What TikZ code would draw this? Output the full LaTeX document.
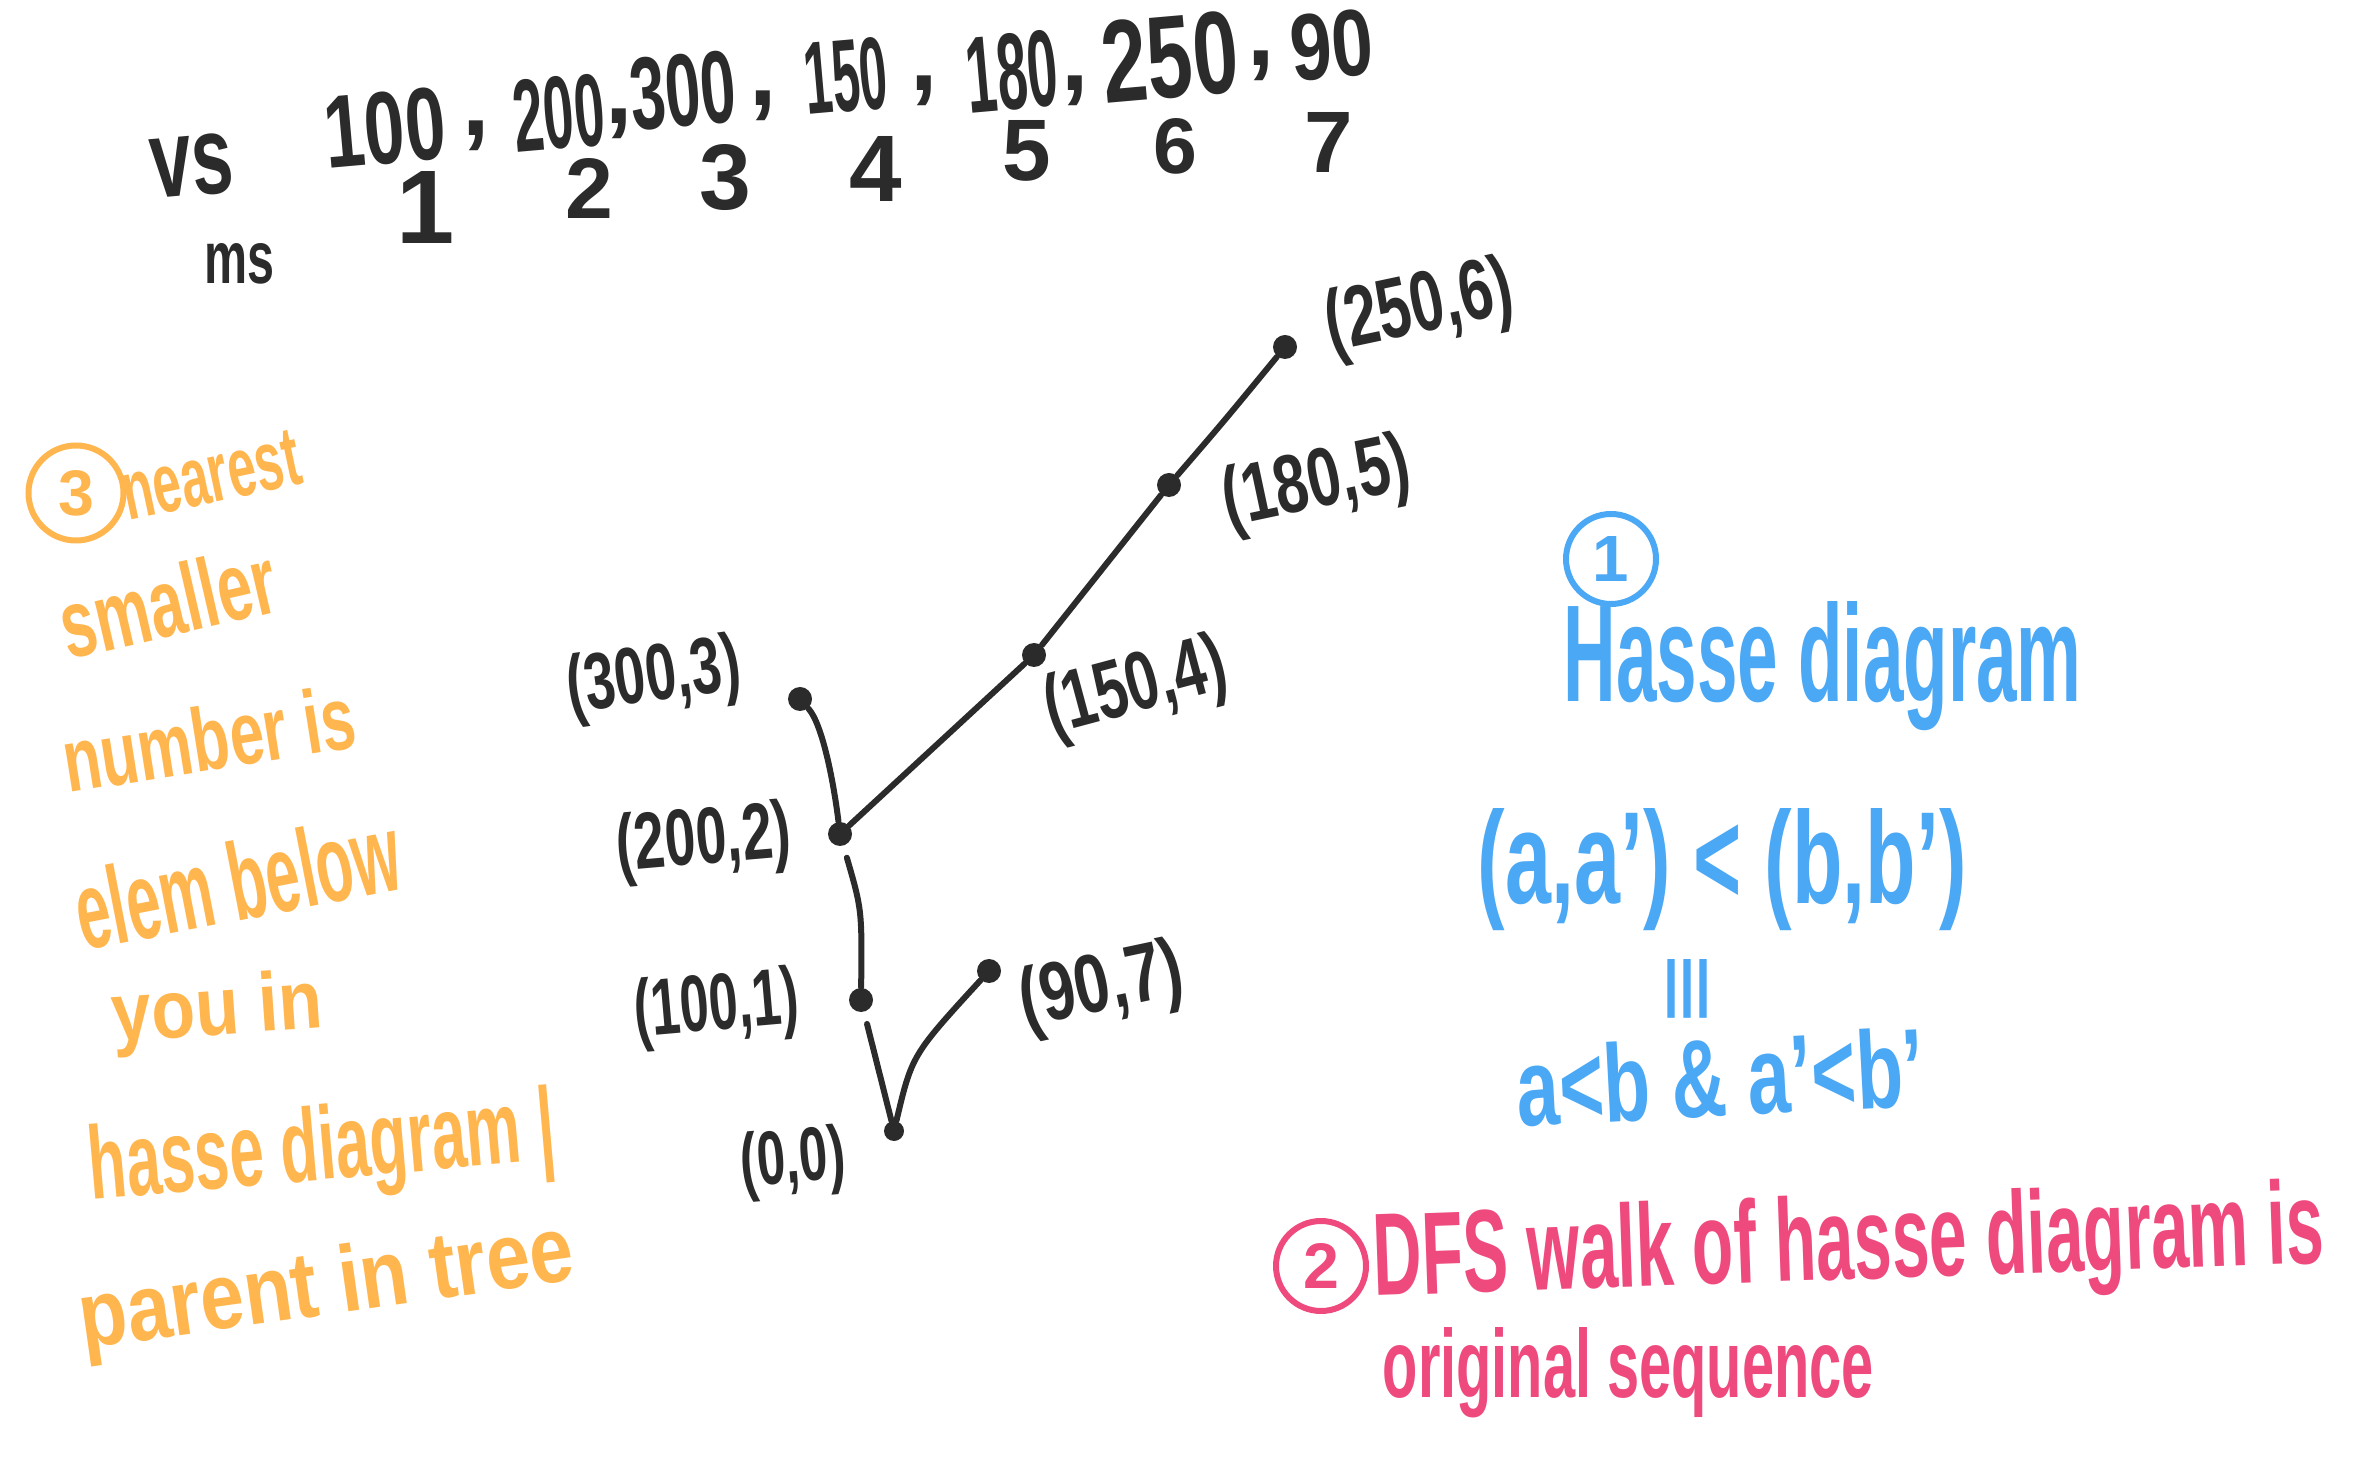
\documentclass[tikz,border=0pt]{standalone}
\usepackage{fontspec}
\setmainfont{Liberation Sans}
\usepackage{graphicx}
\definecolor{ink}{HTML}{2B2B2B}
\definecolor{orng}{HTML}{FFB64F}
\definecolor{blu}{HTML}{4AA8F5}
\definecolor{pnk}{HTML}{EE4A7E}
\newlength\pxu \setlength\pxu{0.1mm}
\newcommand\hwbox[3]{\resizebox{#1\pxu}{#2\pxu}{#3}}
\newcommand\hwh[2]{\resizebox{!}{#1\pxu}{#2}}
\begin{document}
\begin{tikzpicture}[x=0.1mm,y=-0.1mm,
  dotn/.style={circle,fill=ink,inner sep=0pt,minimum size=2.4mm},
  edge/.style={draw=ink,line width=0.6mm,line cap=round},
  lab/.style={text=ink,inner sep=0pt,anchor=center,font=\bfseries},
  comma/.style={text=ink,inner sep=0pt,anchor=center,font=\bfseries\fontsize{28}{28}\selectfont},
  onote/.style={text=orng,inner sep=0pt,anchor=base west,font=\bfseries},
  bnote/.style={text=blu,inner sep=0pt,anchor=base west,font=\bfseries},
  pnote/.style={text=pnk,inner sep=0pt,anchor=base west,font=\bfseries},
  ring/.style={circle,draw=#1,text=#1,line width=0.6mm,inner sep=0pt,minimum size=9mm,font=\bfseries}
]
\fill[white] (0,0) rectangle (2368,1472);
\useasboundingbox (0,0) rectangle (2368,1472);

% top rows
\node[lab,rotate=5] (vs) at (192,166) {\hwbox{83}{60}{vs}};
\node[lab] (ms) at (239,264) {\hwbox{70}{40}{ms}};
\node[lab,rotate=5] (v1) at (385,128) {\hwbox{121}{72}{100}};
\node[comma] (c1) at (476,136) {,};
\node[lab,rotate=5] (v2) at (559,113) {\hwbox{91}{72}{200}};
\node[comma] (c2) at (619,124) {,};
\node[lab,rotate=5] (v3) at (683,91) {\hwbox{106}{72}{300}};
\node[comma] (c3) at (763,106) {,};
\node[lab,rotate=5] (v4) at (846,76) {\hwbox{83}{72}{150}};
\node[comma] (c4) at (924,91) {,};
\node[lab,rotate=5] (v5) at (1012,72) {\hwbox{91}{76}{180}};
\node[comma] (c5) at (1075,91) {,};
\node[lab,rotate=5] (v6) at (1170,57) {\hwbox{136}{82}{250}};
\node[comma] (c6) at (1261,66) {,};
\node[lab,rotate=5] (v7) at (1332,45) {\hwbox{83}{66}{90}};

\node[lab] (i1) at (426,208) {\hwh{72}{1}};
\node[lab] (i2) at (589,189) {\hwh{60}{2}};
\node[lab] (i3) at (725,178) {\hwh{65}{3}};
\node[lab] (i4) at (876,169) {\hwh{65}{4}};
\node[lab] (i5) at (1027,151) {\hwh{60}{5}};
\node[lab] (i6) at (1175,146) {\hwh{55}{6}};
\node[lab] (i7) at (1329,143) {\hwh{60}{7}};

% tree
\node[dotn] (n250) at (1285,347) {};
\node[dotn] (n180) at (1169,485) {};
\node[dotn] (n150) at (1034,655) {};
\node[dotn] (n300) at (800,699) {};
\node[dotn] (n200) at (840,834) {};
\node[dotn] (n100) at (861,1000) {};
\node[dotn,minimum size=2mm] (n0) at (894,1131) {};
\node[dotn] (n90) at (989,971) {};

\draw[edge] (n250) .. controls (1225,420) .. (n180);
\draw[edge] (n180) -- (n150);
\draw[edge] (n150) -- (n200);
\draw[edge] (n300) .. controls (823,725) and (834,785) .. (n200);
\draw[edge,shorten <=1.2mm] (n200) .. controls (862,910) .. (n100);
\draw[edge,shorten <=1.2mm] (n100) -- (n0);
\draw[edge] (n0) .. controls (912,1055) .. (n90);

\node[lab,rotate=12] (l250) at (1420,310) {\hwbox{190}{62}{(250,6)}};
\node[lab,rotate=12] (l180) at (1317,486) {\hwbox{190}{60}{(180,5)}};
\node[lab,rotate=15] (l150) at (1136,690) {\hwbox{185}{60}{(150,4)}};
\node[lab,rotate=8] (l300) at (654,680) {\hwbox{175}{58}{(300,3)}};
\node[lab,rotate=5] (l200) at (704,843) {\hwbox{175}{58}{(200,2)}};
\node[lab,rotate=5] (l100) at (717,1009) {\hwbox{165}{58}{(100,1)}};
\node[lab,rotate=5] (l0) at (793,1163) {\hwbox{105}{55}{(0,0)}};
\node[lab,rotate=12] (l90) at (1102,989) {\hwbox{165}{60}{(90,7)}};

% orange notes
\node[ring=orng,minimum size=9.5mm] (o3) at (76,493) {\hwh{45}{3}};
\node[onote,rotate=12] (o1) at (128,521) {\hwbox{180}{55}{nearest}};
\node[onote,rotate=13] (o2) at (68,660) {\hwbox{219}{70}{smaller}};
\node[onote,rotate=9] (o4) at (68,793) {\hwbox{294}{65}{number is}};
\node[onote,rotate=11] (o5) at (83,951) {\hwbox{328}{80}{elem below}};
\node[onote,rotate=4] (o6) at (113,1042) {\hwbox{211}{60}{you in}};
\node[onote,rotate=5] (o7) at (91,1200) {\hwbox{468}{75}{hasse diagram |}};
\node[onote,rotate=8] (o8) at (83,1349) {\hwbox{498}{68}{parent in tree}};

% blue notes
\node[ring=blu,minimum size=9mm] (b1) at (1611,559) {\hwh{45}{1}};
\node[bnote] (b2) at (1563,702) {\hwbox{518}{100}{Hasse diagram}};
\node[bnote] (b3) at (1477,903) {\hwbox{489}{95}{(a,a') < (b,b')}};
\node[text=blu,inner sep=0pt,font=\bfseries] (b4) at (1687,989) {\hwbox{48}{45}{|||}};
\node[bnote,rotate=3] (b5) at (1518,1127) {\hwbox{408}{80}{a<b \& a'<b'}};

% pink notes
\node[ring=pnk] (p1) at (1321,1266) {\hwh{45}{2}};
\node[pnote,rotate=2] (p2) at (1374,1296) {\hwbox{951}{85}{DFS walk of hasse diagram is}};
\node[pnote] (p3) at (1382,1397) {\hwbox{491}{70}{original sequence}};
\end{tikzpicture}
\end{document}
